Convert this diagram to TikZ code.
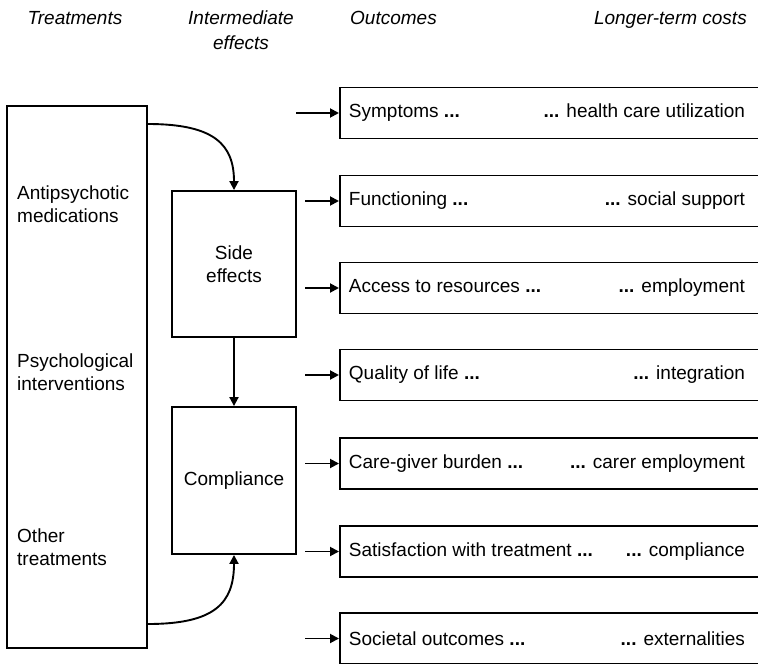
\documentclass[tikz,border=0pt]{standalone}
\usepackage{fontspec}
\setmainfont{Liberation Sans}
\usetikzlibrary{arrows.meta}
\begin{document}
\begin{tikzpicture}[x=1pt,y=-1pt,
  font=\fontsize{19}{23}\selectfont,
  box/.style={draw, line width=1.9pt, inner sep=0pt},
  outbox/.style={draw, line width=1.9pt, anchor=west, inner xsep=9pt, inner ysep=0pt, minimum height=51pt},
  lbl/.style={anchor=west, align=left, inner sep=0pt},
  head/.style={font=\fontsize{19}{25}\selectfont\itshape, inner sep=0pt, align=center},
  conn/.style={line width=1.9pt, -{Triangle[length=9pt,width=9pt]}}]
\useasboundingbox (0,0) rectangle (758,664);
% headers
\node[head, anchor=base] (h1) at (75,24) {Treatments};
\node[head, anchor=base] (h2) at (241,49) {Intermediate\\effects};
\node[head, anchor=base west] (h3) at (350,24) {Outcomes};
\node[head, anchor=base east] (h4) at (747,24) {Longer-term costs};
% treatments box
\node[box, minimum width=140pt, minimum height=542pt] (treat) at (77,377) {};
\node[lbl] (t1) at (17,204) {Antipsychotic\\medications};
\node[lbl] (t2) at (17,372) {Psychological\\interventions};
\node[lbl] (t3) at (17,547) {Other\\treatments};
% intermediate
\node[box, minimum width=124pt, minimum height=146pt, align=center] (se) at (234,264) {Side\\effects};
\node[box, minimum width=124pt, minimum height=147pt] (comp) at (234,480.5) {Compliance};
% outcomes
\newcommand{\ocrow}[2]{\makebox[405pt][l]{#1 \textbf{...}\hfill\textbf{...} #2\kern9pt}}
\node[outbox] (o1) at (339,113) {\ocrow{Symptoms}{health care utilization}};
\node[outbox] (o2) at (339,201) {\ocrow{Functioning}{social support}};
\node[outbox] (o3) at (339,288) {\ocrow{Access to resources}{employment}};
\node[outbox] (o4) at (339,375) {\ocrow{Quality of life}{integration}};
\node[outbox] (o5) at (339,463.5) {\ocrow{Care-giver burden}{carer employment}};
\node[outbox] (o6) at (339,551.5) {\ocrow{Satisfaction with treatment}{compliance}};
\node[outbox] (o7) at (339,638.5) {\ocrow{Societal outcomes}{externalities}};
% arrow starts
\coordinate (s1) at (296,113);
\coordinate (s2) at (305,201);
\coordinate (s3) at (305,288);
\coordinate (s4) at (305,375);
\coordinate (s5) at (305,463.5);
\coordinate (s6) at (305,551.5);
\coordinate (s7) at (305,638.5);
\foreach \i in {1,...,7} {\draw[conn] (s\i) -- (o\i.west);}
% curves
\coordinate (c1) at (treat.east |- 0,124);
\coordinate (c2) at (treat.east |- 0,624);
\draw[conn] (c1) .. controls (215,124) and (234,145) .. (se.north);
\draw[conn] (c2) .. controls (215,624) and (234,603) .. (comp.south);
\draw[conn] (se.south) -- (comp.north);
\end{tikzpicture}
\end{document}
